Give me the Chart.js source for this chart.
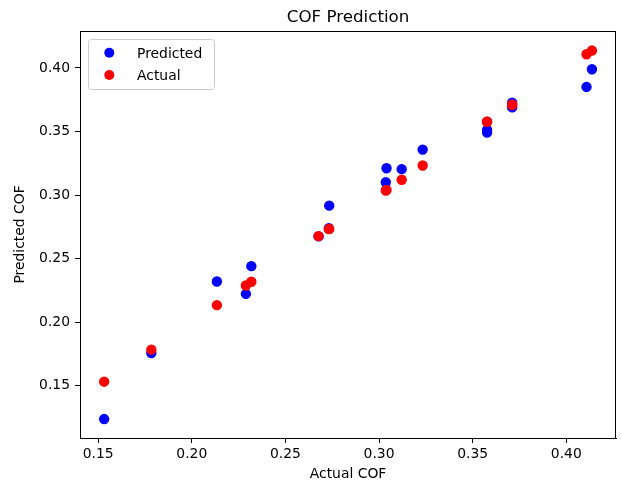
<!DOCTYPE html>
<html><head><meta charset="utf-8">
<script src="https://cdn.jsdelivr.net/npm/chart.js@4"></script>
<style>html,body{margin:0;padding:0;background:#fff}#c{display:block}</style>
</head><body>
<canvas id="c" width="622" height="488"></canvas>
<script>
const actualCOF    = [0.1532, 0.1784, 0.2134, 0.2289, 0.2318, 0.2677, 0.2734, 0.2732, 0.3036, 0.3040, 0.3121, 0.3233, 0.3577, 0.3577, 0.3711, 0.3711, 0.4108, 0.4137];
const predictedCOF = [0.1238, 0.1757, 0.2320, 0.2223, 0.2441, 0.2675, 0.2917, 0.2740, 0.3101, 0.3211, 0.3204, 0.3358, 0.3512, 0.3492, 0.3727, 0.3690, 0.3851, 0.3990];
const xTicks = [0.15, 0.20, 0.25, 0.30, 0.35, 0.40];
const yTicks = [0.15, 0.20, 0.25, 0.30, 0.35, 0.40];
const seriesNames = ['Predicted', 'Actual'];
const seriesColors = ['#0000ff', '#ff0000'];
const titleText = 'COF Prediction';
const xLabel = 'Actual COF';
const yLabel = 'Predicted COF';

const FONT = "'DejaVu Sans', 'Liberation Sans', sans-serif";

const predictedPts = actualCOF.map((a, i) => ({x: a, y: predictedCOF[i]}));
const actualPts = actualCOF.map(a => ({x: a, y: a}));

const decor = {
  id: 'decor',
  afterDraw(chart) {
    const ctx = chart.ctx, ca = chart.chartArea;
    ctx.save();
    // frame
    ctx.strokeStyle = '#000'; ctx.lineWidth = 1;
    ctx.strokeRect(Math.round(ca.left) + 0.5, Math.round(ca.top) + 0.5, Math.round(ca.right - ca.left) - 1, Math.round(ca.bottom - ca.top));
    // title
    ctx.fillStyle = '#000';
    ctx.font = '16.7px ' + FONT;
    ctx.textAlign = 'center'; ctx.textBaseline = 'alphabetic';
    ctx.fillText(titleText, (ca.left + ca.right) / 2, 22);
    // legend
    const lx = 88.5, ly = 39.5, lw = 126, lh = 50, r = 3;
    ctx.beginPath();
    ctx.moveTo(lx + r, ly); ctx.lineTo(lx + lw - r, ly); ctx.quadraticCurveTo(lx + lw, ly, lx + lw, ly + r);
    ctx.lineTo(lx + lw, ly + lh - r); ctx.quadraticCurveTo(lx + lw, ly + lh, lx + lw - r, ly + lh);
    ctx.lineTo(lx + r, ly + lh); ctx.quadraticCurveTo(lx, ly + lh, lx, ly + lh - r);
    ctx.lineTo(lx, ly + r); ctx.quadraticCurveTo(lx, ly, lx + r, ly);
    ctx.closePath();
    ctx.fillStyle = 'rgba(255,255,255,0.8)'; ctx.fill();
    ctx.strokeStyle = '#cccccc'; ctx.stroke();
    ctx.font = '13.9px ' + FONT; ctx.textAlign = 'left';
    chart.data.datasets.forEach((ds, i) => {
      const cy = 52.7 + i * 22.3;
      ctx.beginPath(); ctx.arc(109.3, cy, 5, 0, Math.PI * 2);
      ctx.fillStyle = ds.backgroundColor; ctx.fill();
      ctx.fillStyle = '#000';
      ctx.fillText(ds.label, 137, cy + 5);
    });
    ctx.restore();
  }
};

new Chart(document.getElementById('c'), {
  type: 'scatter',
  data: {
    datasets: [
      {label: seriesNames[0], data: predictedPts, backgroundColor: seriesColors[0], borderColor: seriesColors[0], pointRadius: 4.5, borderWidth: 1.4, order: 2},
      {label: seriesNames[1], data: actualPts, backgroundColor: seriesColors[1], borderColor: seriesColors[1], pointRadius: 4.5, borderWidth: 1.4, order: 1}
    ]
  },
  options: {
    responsive: false, animation: false, devicePixelRatio: 1,
    layout: {padding: {top: 31, right: 1, left: 0, bottom: 0}},
    plugins: {legend: {display: false}, title: {display: false}, tooltip: {enabled: false}},
    scales: {
      x: {
        type: 'linear', min: 0.1403, max: 0.4266,
        afterBuildTicks: s => { s.ticks = xTicks.map(v => ({value: v})); },
        afterFit: s => { s.height = 50; s.paddingLeft = 0; s.paddingRight = 0; },
        grid: {drawOnChartArea: false, drawTicks: true, tickLength: 5, color: '#000'},
        border: {display: true, color: '#000'},
        ticks: {color: '#000', font: {family: FONT, size: 13.9}, padding: 3, maxRotation: 0, callback: v => v.toFixed(2)},
        title: {display: true, text: xLabel, color: '#000', font: {family: FONT, size: 13.9}, padding: {top: 0, bottom: 5}}
      },
      y: {
        type: 'linear', min: 0.1089, max: 0.4291,
        afterBuildTicks: s => { s.ticks = yTicks.map(v => ({value: v})); },
        afterFit: s => { s.width = 80; s.paddingTop = 0; s.paddingBottom = 0; },
        grid: {drawOnChartArea: false, drawTicks: true, tickLength: 5, color: '#000'},
        border: {display: true, color: '#000'},
        ticks: {color: '#000', font: {family: FONT, size: 13.9}, padding: 5, callback: v => v.toFixed(2)},
        title: {display: true, text: yLabel, color: '#000', font: {family: FONT, size: 13.9}, padding: {top: 12, bottom: 0}}
      }
    }
  },
  plugins: [decor]
});
</script>
</body></html>
